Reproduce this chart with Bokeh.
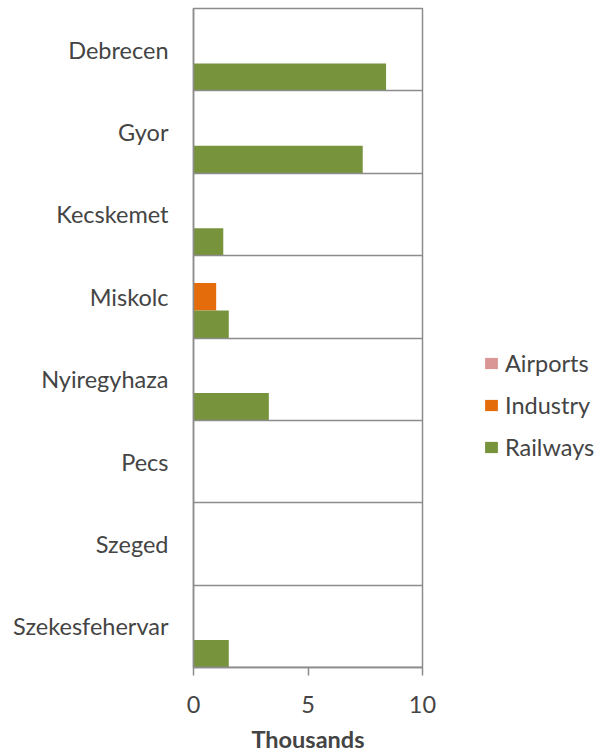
from bokeh.plotting import figure
from bokeh.models import ColumnDataSource, FactorRange, Range1d, FixedTicker, Legend, LegendItem
from bokeh.transform import dodge
from bokeh.embed import file_html
from bokeh.resources import INLINE

cities = ["Debrecen", "Gyor", "Kecskemet", "Miskolc", "Nyiregyhaza", "Pecs", "Szeged", "Szekesfehervar"]
airports = [0, 0, 0, 0, 0, 0, 0, 0]
industry = [0, 0, 0, 0.99, 0, 0, 0, 0]
railways = [8.41, 7.39, 1.30, 1.54, 3.29, 0, 0, 1.54]
x_ticks = [0, 5, 10]
series_names = ["Airports", "Industry", "Railways"]
series_colors = ["#d99694", "#e46c0a", "#77933c"]

source = ColumnDataSource(data=dict(city=cities, Airports=airports, Industry=industry, Railways=railways))

FONT = "Lato"
FS = "23.5px"
GRAY = "#8c8c8c"

p = figure(
    y_range=FactorRange(factors=list(reversed(cities)), range_padding=0),
    x_range=Range1d(0, 10),
    frame_width=229, frame_height=659,
    min_border_left=193, min_border_right=170, min_border_top=8, min_border_bottom=78,
    output_backend="svg", toolbar_location=None,
)
p.background_fill_color = "white"
p.border_fill_color = "white"
p.outline_line_color = GRAY
p.outline_line_width = 1.5

offsets = [1/3, 0, -1/3]
renderers = []
for name, col, off in zip(series_names, series_colors, offsets):
    r = p.hbar(y=dodge("city", off, range=p.y_range), left=0, right=name, height=1/3,
               source=source, fill_color=col, line_color=None)
    renderers.append(r)

# category separators
p.hspan(y=dodge("city", -0.5, range=p.y_range), source=source, line_color=GRAY, line_width=1.5)

p.xgrid.visible = False
p.ygrid.visible = False

p.xaxis.ticker = FixedTicker(ticks=x_ticks)
p.xaxis.axis_label = "Thousands"
p.xaxis.axis_label_text_font = FONT
p.xaxis.axis_label_text_font_style = "bold"
p.xaxis.axis_label_text_font_size = FS
p.xaxis.axis_label_standoff = 9
p.xaxis.major_label_text_font = FONT
p.xaxis.major_label_text_font_size = FS
p.xaxis.major_label_standoff = 20
p.xaxis.major_tick_out = 8
p.xaxis.major_tick_in = 0
p.xaxis.minor_tick_out = 0
p.xaxis.minor_tick_in = 0
p.xaxis.axis_line_color = GRAY
p.xaxis.axis_line_width = 1.5
p.xaxis.major_tick_line_color = GRAY
p.xaxis.major_tick_line_width = 1.5

p.yaxis.major_label_text_font = FONT
p.yaxis.major_label_text_font_size = FS
p.yaxis.major_label_standoff = 25
p.yaxis.major_tick_out = 0
p.yaxis.major_tick_in = 0
p.yaxis.minor_tick_out = 0
p.yaxis.axis_line_color = GRAY
p.yaxis.axis_line_width = 1.5

legend = Legend(
    items=[LegendItem(label=n, renderers=[r]) for n, r in zip(series_names, renderers)],
    location=(61, 206),
    padding=0, margin=0, spacing=14,
    glyph_width=16, glyph_height=14, label_height=28, label_standoff=6,
    label_text_font=FONT, label_text_font_size=FS,
    border_line_color=None, background_fill_alpha=0,
)
p.add_layout(legend, "right")

open("out.html", "w").write(file_html(p, INLINE))
